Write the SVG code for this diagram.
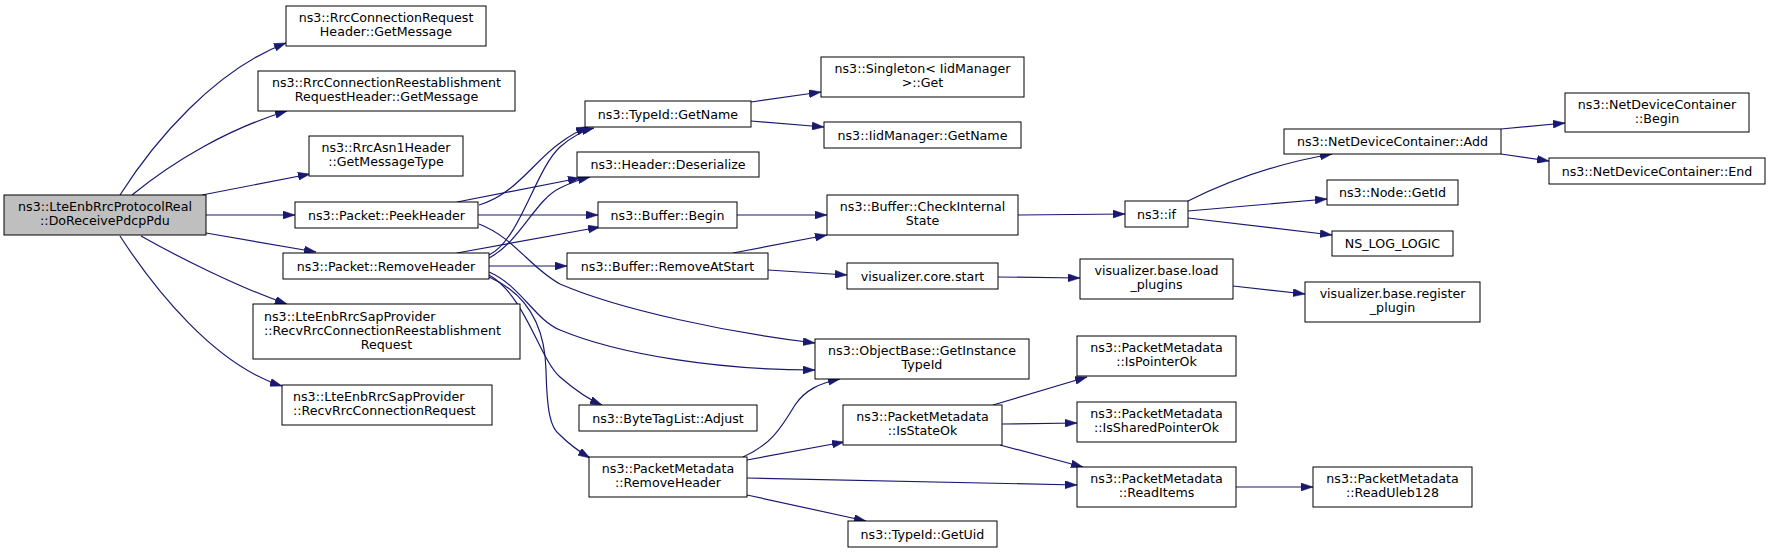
<svg xmlns="http://www.w3.org/2000/svg" width="1771" height="553" viewBox="0 0 1771 553">
<style>
.n rect{fill:#fff;stroke:#000;stroke-width:1}
.n.root rect{fill:#bfbfbf}
.n text{font-family:"DejaVu Sans",sans-serif;font-size:12.65px;fill:#000;text-anchor:middle}
.n text.l{text-anchor:start}
#edges path{fill:none;stroke:#191970;stroke-width:1.2;marker-end:url(#ah)}
</style>
<defs>
<marker id="ah" viewBox="0 0 12 8" refX="12" refY="4" markerWidth="12" markerHeight="8" markerUnits="userSpaceOnUse" orient="auto">
<path d="M0,0 L12,4 L0,8 z" fill="#191970" stroke="#191970" stroke-width="0.5"/>
</marker>
</defs>
<rect width="1771" height="553" fill="#fff"/>
<g id="edges">
<path d="M120,195 C155,140 215,70 286,43"/>
<path d="M132,195 C175,160 230,128 287,111"/>
<path d="M202,195 L310,174"/>
<path d="M206,215 L295,215"/>
<path d="M206,233 L316,252"/>
<path d="M141,236 C180,258 240,288 287,304"/>
<path d="M120,236 C155,290 215,365 282,386"/>
<path d="M479,205 C515,195 535,160 560,143 C568,137 575,132 588,127"/>
<path d="M457,202 L580,178"/>
<path d="M478,215 L598,215"/>
<path d="M479,224 C515,238 530,268 560,284 C620,310 730,333 815,343"/>
<path d="M489,255 C520,240 535,170 560,147 C568,140 578,132 594,128"/>
<path d="M489,258 C520,242 535,200 560,188 C568,184 578,180 590,177"/>
<path d="M457,253 L600,227"/>
<path d="M489,266 L567,266"/>
<path d="M489,272 C520,285 535,320 560,330 C620,355 720,370 815,370"/>
<path d="M489,275 C525,295 540,360 560,377 C575,390 590,400 602,405"/>
<path d="M489,277 C530,295 545,330 546,370 C547,410 550,428 560,435 C570,445 580,452 590,458"/>
<path d="M751,102 L821,92"/>
<path d="M751,121 L824,127"/>
<path d="M737,215 L827,215"/>
<path d="M733,253 L827,235"/>
<path d="M768,270 L847,275"/>
<path d="M1018,215 L1125,214"/>
<path d="M998,277 L1080,278"/>
<path d="M1233,286 L1305,294"/>
<path d="M743,457 C770,445 780,430 795,405 C805,390 820,383 840,379"/>
<path d="M747,460 L844,442"/>
<path d="M747,478 L1077,485"/>
<path d="M747,495 L866,521"/>
<path d="M993,405 L1087,377"/>
<path d="M1002,424 L1077,423"/>
<path d="M1000,445 L1083,467"/>
<path d="M1236,487 L1313,487"/>
<path d="M1188,201 C1230,180 1280,163 1332,154"/>
<path d="M1188,211 L1327,199"/>
<path d="M1188,218 L1332,235"/>
<path d="M1501,129 L1565,123"/>
<path d="M1501,154 L1549,161"/>
</g>
<g id="n_main" class="n root"><rect x="4" y="195" width="202" height="40"/><text x="105" y="211">ns3::LteEnbRrcProtocolReal</text><text x="105" y="225">::DoReceivePdcpPdu</text></g>
<g id="n_rrcreq" class="n"><rect x="286" y="6" width="200" height="40"/><text x="386" y="22">ns3::RrcConnectionRequest</text><text x="386" y="36">Header::GetMessage</text></g>
<g id="n_rrcreest" class="n"><rect x="258" y="71" width="257" height="40"/><text x="386.5" y="87">ns3::RrcConnectionReestablishment</text><text x="386.5" y="101">RequestHeader::GetMessage</text></g>
<g id="n_asn1" class="n"><rect x="309" y="136" width="154" height="40"/><text x="386" y="152">ns3::RrcAsn1Header</text><text x="386" y="166">::GetMessageType</text></g>
<g id="n_peek" class="n"><rect x="295" y="202" width="183" height="26"/><text x="386.5" y="219.5">ns3::Packet::PeekHeader</text></g>
<g id="n_rmhdr" class="n"><rect x="283" y="253" width="206" height="26"/><text x="386" y="270.5">ns3::Packet::RemoveHeader</text></g>
<g id="n_sapreest" class="n"><rect x="253" y="304" width="267" height="55"/><text class="l" x="264" y="321">ns3::LteEnbRrcSapProvider</text><text class="l" x="264" y="335">::RecvRrcConnectionReestablishment</text><text x="386.5" y="349">Request</text></g>
<g id="n_sapreq" class="n"><rect x="282" y="385" width="210" height="40"/><text class="l" x="293" y="401">ns3::LteEnbRrcSapProvider</text><text class="l" x="293" y="415">::RecvRrcConnectionRequest</text></g>
<g id="n_getname" class="n"><rect x="585" y="101" width="166" height="26"/><text x="668" y="118.5">ns3::TypeId::GetName</text></g>
<g id="n_deser" class="n"><rect x="577" y="152" width="182" height="25"/><text x="668" y="169">ns3::Header::Deserialize</text></g>
<g id="n_bufbegin" class="n"><rect x="598" y="202" width="139" height="26"/><text x="667.5" y="219.5">ns3::Buffer::Begin</text></g>
<g id="n_rmstart" class="n"><rect x="567" y="253" width="201" height="26"/><text x="667.5" y="270.5">ns3::Buffer::RemoveAtStart</text></g>
<g id="n_adjust" class="n"><rect x="579" y="405" width="178" height="26"/><text x="668" y="422.5">ns3::ByteTagList::Adjust</text></g>
<g id="n_pmrm" class="n"><rect x="589" y="457" width="158" height="40"/><text x="668" y="473">ns3::PacketMetadata</text><text x="668" y="487">::RemoveHeader</text></g>
<g id="n_singleton" class="n"><rect x="821" y="57" width="203" height="40"/><text x="922.5" y="73">ns3::Singleton&lt; IidManager</text><text x="922.5" y="87">&gt;::Get</text></g>
<g id="n_iidname" class="n"><rect x="824" y="122" width="197" height="26"/><text x="922.5" y="139.5">ns3::IidManager::GetName</text></g>
<g id="n_check" class="n"><rect x="827" y="195" width="191" height="40"/><text x="922.5" y="211">ns3::Buffer::CheckInternal</text><text x="922.5" y="225">State</text></g>
<g id="n_vcore" class="n"><rect x="847" y="263" width="151" height="26"/><text x="922.5" y="280.5">visualizer.core.start</text></g>
<g id="n_objbase" class="n"><rect x="815" y="339" width="214" height="40"/><text x="922" y="355">ns3::ObjectBase::GetInstance</text><text x="922" y="369">TypeId</text></g>
<g id="n_isstate" class="n"><rect x="843" y="405" width="159" height="40"/><text x="922.5" y="421">ns3::PacketMetadata</text><text x="922.5" y="435">::IsStateOk</text></g>
<g id="n_getuid" class="n"><rect x="848" y="521" width="149" height="26"/><text x="922.5" y="538.5">ns3::TypeId::GetUid</text></g>
<g id="n_if" class="n"><rect x="1125" y="201" width="63" height="26"/><text x="1156.5" y="218.5">ns3::if</text></g>
<g id="n_load" class="n"><rect x="1080" y="259" width="153" height="40"/><text x="1156.5" y="275">visualizer.base.load</text><text x="1156.5" y="289">_plugins</text></g>
<g id="n_isptr" class="n"><rect x="1077" y="336" width="159" height="40"/><text x="1156.5" y="352">ns3::PacketMetadata</text><text x="1156.5" y="366">::IsPointerOk</text></g>
<g id="n_isshared" class="n"><rect x="1077" y="402" width="159" height="40"/><text x="1156.5" y="418">ns3::PacketMetadata</text><text x="1156.5" y="432">::IsSharedPointerOk</text></g>
<g id="n_readitems" class="n"><rect x="1077" y="467" width="159" height="40"/><text x="1156.5" y="483">ns3::PacketMetadata</text><text x="1156.5" y="497">::ReadItems</text></g>
<g id="n_add" class="n"><rect x="1284" y="129" width="217" height="25"/><text x="1392.5" y="146">ns3::NetDeviceContainer::Add</text></g>
<g id="n_nodeid" class="n"><rect x="1327" y="180" width="131" height="25"/><text x="1392.5" y="197">ns3::Node::GetId</text></g>
<g id="n_nslog" class="n"><rect x="1332" y="231" width="121" height="25"/><text x="1392.5" y="248">NS_LOG_LOGIC</text></g>
<g id="n_register" class="n"><rect x="1305" y="282" width="175" height="40"/><text x="1392.5" y="298">visualizer.base.register</text><text x="1392.5" y="312">_plugin</text></g>
<g id="n_uleb" class="n"><rect x="1313" y="467" width="159" height="40"/><text x="1392.5" y="483">ns3::PacketMetadata</text><text x="1392.5" y="497">::ReadUleb128</text></g>
<g id="n_ndcbegin" class="n"><rect x="1565" y="93" width="184" height="39"/><text x="1657" y="109">ns3::NetDeviceContainer</text><text x="1657" y="123">::Begin</text></g>
<g id="n_ndcend" class="n"><rect x="1549" y="158" width="216" height="26"/><text x="1657" y="175.5">ns3::NetDeviceContainer::End</text></g>
</svg>
